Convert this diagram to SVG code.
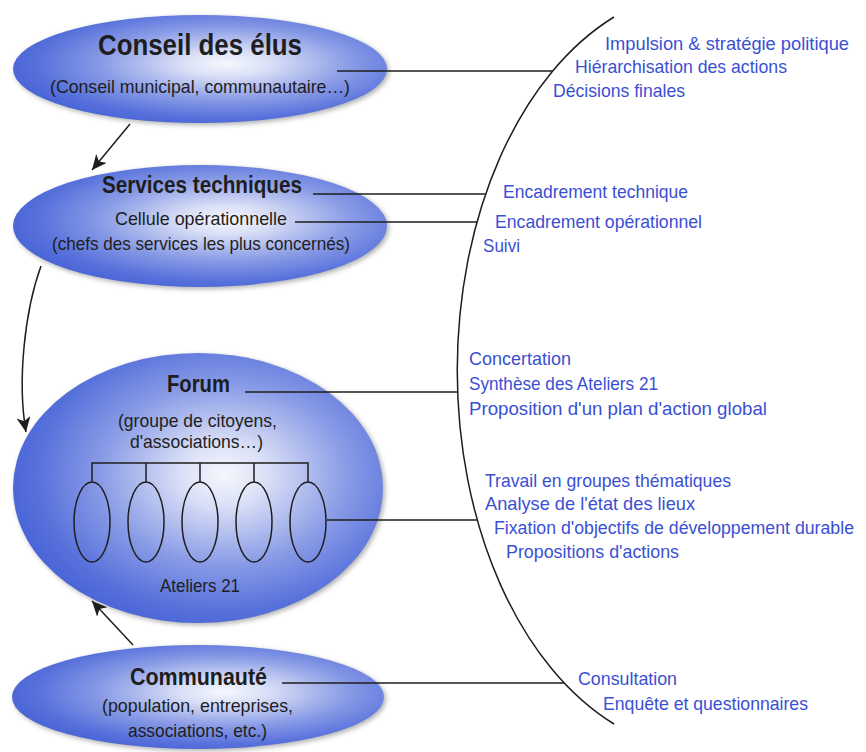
<svg xmlns="http://www.w3.org/2000/svg" width="866" height="752" viewBox="0 0 866 752">
<style>
.t{font-family:"Liberation Sans",Arial,sans-serif;fill:#1e1e1e;text-anchor:middle}
.b{font-weight:bold}
.r{font-family:"Liberation Sans",Arial,sans-serif;fill:#3a4fd3;font-size:18.5px}
.ln{stroke:#1e1e1e;stroke-width:1.5;fill:none}
.ell{fill:url(#g)}
.sh{fill:#6d6d6d;opacity:0.55;filter:url(#blur)}
.sm{fill:none;stroke:#1e1e1e;stroke-width:1.5}
</style>
<defs>
<radialGradient id="g" cx="0.57" cy="0.45" r="0.6">
<stop offset="0" stop-color="#f6f8fd"/>
<stop offset="0.2" stop-color="#d9dff6"/>
<stop offset="0.55" stop-color="#8a9ce6"/>
<stop offset="0.85" stop-color="#5670db"/>
<stop offset="1" stop-color="#4863d6"/>
</radialGradient>
<filter id="blur" x="-10%" y="-20%" width="120%" height="140%">
<feGaussianBlur stdDeviation="2.5"/>
</filter>
<marker id="ah" markerUnits="userSpaceOnUse" markerWidth="18" markerHeight="16" refX="15" refY="7" orient="auto">
<path d="M0,0 L15,7 L0,14 L4,7 z" fill="#1e1e1e"/>
</marker>
</defs>
<rect width="866" height="752" fill="#ffffff"/>

<g id="n-conseil">
<ellipse class="sh" cx="202" cy="71" rx="187" ry="54"/>
<ellipse class="ell" cx="200" cy="69" rx="187" ry="54"/>
<text class="t b" x="200" y="55" font-size="29" textLength="204" lengthAdjust="spacingAndGlyphs">Conseil des élus</text>
<text class="t" x="200" y="93" font-size="19" textLength="300" lengthAdjust="spacingAndGlyphs">(Conseil municipal, communautaire…)</text>
</g>

<g id="n-services">
<ellipse class="sh" cx="202" cy="228" rx="187" ry="61"/>
<ellipse class="ell" cx="200" cy="226" rx="187" ry="61"/>
<text class="t b" x="202" y="193" font-size="23" textLength="200" lengthAdjust="spacingAndGlyphs">Services techniques</text>
<text class="t" x="201" y="225" font-size="18.5" textLength="172" lengthAdjust="spacingAndGlyphs">Cellule opérationnelle</text>
<text class="t" x="201" y="250" font-size="18.5" textLength="298" lengthAdjust="spacingAndGlyphs">(chefs des services les plus concernés)</text>
</g>

<g id="n-forum">
<ellipse class="sh" cx="200" cy="490" rx="185" ry="135"/>
<ellipse class="ell" cx="198" cy="488" rx="185" ry="135"/>
<text class="t b" x="198.5" y="392" font-size="23" textLength="63" lengthAdjust="spacingAndGlyphs">Forum</text>
<text class="t" x="197.5" y="427" font-size="18.5" textLength="159" lengthAdjust="spacingAndGlyphs">(groupe de citoyens,</text>
<text class="t" x="196.5" y="448" font-size="18.5" textLength="133" lengthAdjust="spacingAndGlyphs">d'associations…)</text>
<g id="ateliers">
<path class="ln" d="M92,482 V463 H308 V482 M146,463 V482 M200,463 V482 M254,463 V482"/>
<ellipse class="sm" cx="92" cy="522" rx="18" ry="40"/>
<ellipse class="sm" cx="146" cy="522" rx="18" ry="40"/>
<ellipse class="sm" cx="200" cy="522" rx="18" ry="40"/>
<ellipse class="sm" cx="254" cy="522" rx="18" ry="40"/>
<ellipse class="sm" cx="308" cy="522" rx="18" ry="40"/>
<text class="t" x="200" y="592" font-size="18" textLength="80" lengthAdjust="spacingAndGlyphs">Ateliers 21</text>
</g>
</g>

<g id="n-communaute">
<ellipse class="sh" cx="200" cy="699" rx="186" ry="52"/>
<ellipse class="ell" cx="198" cy="697" rx="186" ry="52"/>
<text class="t b" x="198.5" y="685" font-size="23.5" textLength="137" lengthAdjust="spacingAndGlyphs">Communauté</text>
<text class="t" x="197.5" y="712" font-size="19" textLength="191" lengthAdjust="spacingAndGlyphs">(population, entreprises,</text>
<text class="t" x="197.5" y="737" font-size="19" textLength="139" lengthAdjust="spacingAndGlyphs">associations, etc.)</text>
</g>

<g id="connectors">
<path class="ln" d="M614,17 A250 381 0 0 0 614,724"/>
<path class="ln" d="M337,71 H553"/>
<path class="ln" d="M313,194 H485"/>
<path class="ln" d="M295,222 H477"/>
<path class="ln" d="M245,392 H458"/>
<path class="ln" d="M327,520 H477"/>
<path class="ln" d="M282,683 H564"/>
<path class="ln" d="M130,124 L92,170" marker-end="url(#ah)"/>
<path class="ln" d="M41,266 C25,310 17,380 26,432" marker-end="url(#ah)"/>
<path class="ln" d="M133,645 L92,601" marker-end="url(#ah)"/>
</g>

<g id="l-conseil">
<text class="r" x="605" y="50" textLength="244" lengthAdjust="spacingAndGlyphs">Impulsion &amp; stratégie politique</text>
<text class="r" x="575" y="73" textLength="212" lengthAdjust="spacingAndGlyphs">Hiérarchisation des actions</text>
<text class="r" x="553" y="97" textLength="132" lengthAdjust="spacingAndGlyphs">Décisions finales</text>
</g>
<g id="l-services">
<text class="r" x="503" y="198" textLength="185" lengthAdjust="spacingAndGlyphs">Encadrement technique</text>
<text class="r" x="495" y="228" textLength="207" lengthAdjust="spacingAndGlyphs">Encadrement opérationnel</text>
<text class="r" x="483" y="252" textLength="37" lengthAdjust="spacingAndGlyphs">Suivi</text>
</g>
<g id="l-forum">
<text class="r" x="469" y="365" textLength="102" lengthAdjust="spacingAndGlyphs">Concertation</text>
<text class="r" x="469" y="390" textLength="189" lengthAdjust="spacingAndGlyphs">Synthèse des Ateliers 21</text>
<text class="r" x="469" y="415" textLength="298" lengthAdjust="spacingAndGlyphs">Proposition d'un plan d'action global</text>
</g>
<g id="l-ateliers">
<text class="r" x="485" y="487" textLength="246" lengthAdjust="spacingAndGlyphs">Travail en groupes thématiques</text>
<text class="r" x="485" y="510" textLength="210" lengthAdjust="spacingAndGlyphs">Analyse de l'état des lieux</text>
<text class="r" x="494" y="534" style="font-size:17.5px" textLength="360" lengthAdjust="spacingAndGlyphs">Fixation d'objectifs de développement durable</text>
<text class="r" x="506" y="558" textLength="173" lengthAdjust="spacingAndGlyphs">Propositions d'actions</text>
</g>
<g id="l-communaute">
<text class="r" x="578" y="685" textLength="99" lengthAdjust="spacingAndGlyphs">Consultation</text>
<text class="r" x="603" y="710" textLength="205" lengthAdjust="spacingAndGlyphs">Enquête et questionnaires</text>
</g>
</svg>
